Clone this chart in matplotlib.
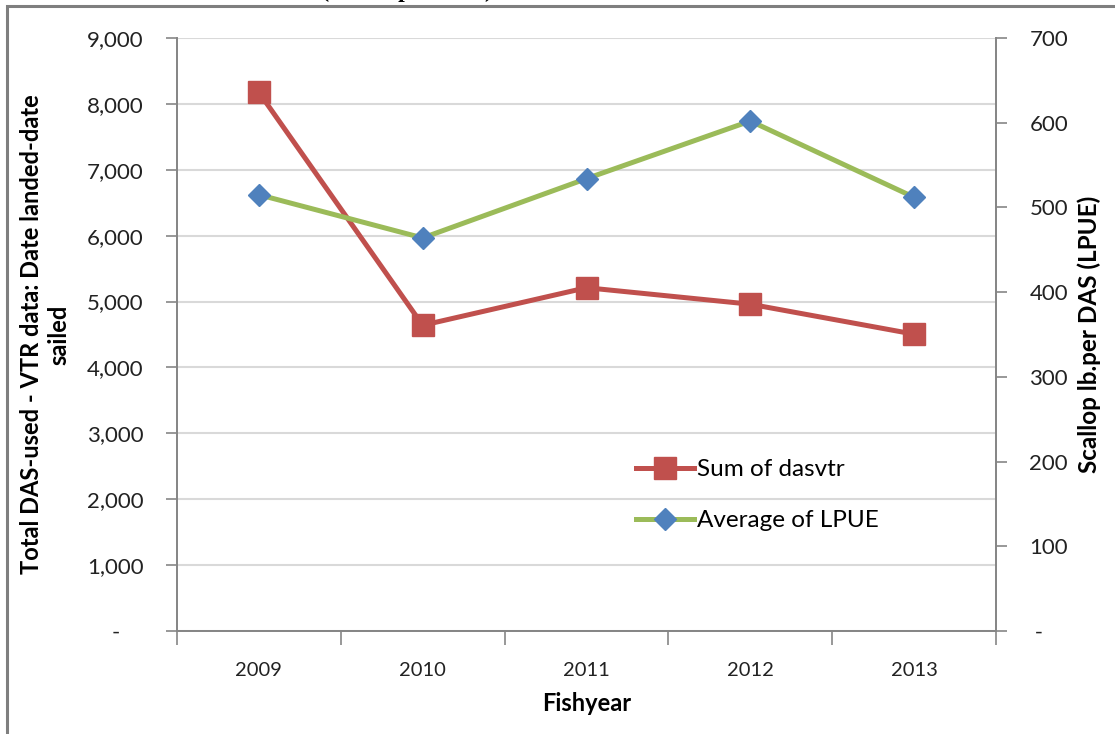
import numpy as np
import matplotlib
matplotlib.use("Agg")
import matplotlib.pyplot as plt
from matplotlib.patches import Rectangle
from matplotlib.ticker import FuncFormatter, MultipleLocator

plt.rcParams['font.family'] = ['Lato', 'DejaVu Sans']

# data
years = ['2009', '2010', '2011', '2012', '2013']
das_sum = [8175, 4640, 5210, 4960, 4505]
lpue_avg = [515, 464, 534, 602, 512]

red = '#C0504D'
green = '#9BBB59'
blue = '#4F81BD'
grid_c = '#D9D9D9'
axis_c = '#868686'

fig = plt.figure(figsize=(11.15, 7.34), dpi=100)
ax = fig.add_axes([177/1115, 103/734, (996-177)/1115, (631-38)/734])
ax2 = ax.twinx()

x = np.arange(len(years))
l1, = ax.plot(x, das_sum, color=red, lw=3.6, marker='s', ms=15.5,
              mfc=red, mec=red, label='Sum of dasvtr', zorder=3)
l2, = ax2.plot(x, lpue_avg, color=green, lw=3.6, marker='D', ms=11.7,
               mfc=blue, mec=blue, label='Average of LPUE', zorder=3)

ax.set_xlim(-0.5, 4.5)
ax.set_ylim(0, 9000)
ax2.set_ylim(0, 700)
ax.yaxis.set_major_locator(MultipleLocator(1000))
ax2.yaxis.set_major_locator(MultipleLocator(100))

def fmt(v, pos):
    if v == 0:
        return '-    '
    return f'{v:,.0f}'

def fmt2(v, pos):
    if v == 0:
        return ' -'
    return f'{v:,.0f}'

ax.yaxis.set_major_formatter(FuncFormatter(fmt))
ax2.yaxis.set_major_formatter(FuncFormatter(fmt2))

ax.set_xticks(x)
ax.set_xticklabels(years)
ax.set_xticks(np.arange(-0.5, 5, 1), minor=True)
ax.tick_params(axis='x', which='major', length=0, pad=22, labelsize=14.5, colors='#222222')
ax.tick_params(axis='x', which='minor', length=10, width=1.2, color=axis_c)
ax.tick_params(axis='y', length=8, width=1.2, color=axis_c, pad=16, labelsize=16, labelcolor='#222222')
ax2.tick_params(axis='y', length=8, width=1.2, color=axis_c, pad=16, labelsize=16, labelcolor='#222222')

ax.grid(axis='y', color=grid_c, lw=1.5, zorder=0)
ax.set_axisbelow(True)
for a in (ax, ax2):
    a.spines['top'].set_visible(False)
    for s in ('left', 'right', 'bottom'):
        a.spines[s].set_color(axis_c)
        a.spines[s].set_linewidth(1.3)

ax.set_xlabel('Fishyear', fontsize=17, fontweight='bold', labelpad=10)
ax.set_ylabel('Total DAS-used - VTR data: Date landed-date\nsailed',
              fontsize=17, fontweight='bold', labelpad=12, linespacing=1.2)
ax2.set_ylabel('Scallop lb.per DAS (LPUE)', fontsize=17.5, fontweight='bold',
               rotation=90, labelpad=7)

ax2.legend(handles=[l1, l2], loc='upper left', bbox_to_anchor=(636/1115, 1 - 459/734),
           bbox_transform=fig.transFigure, frameon=False, fontsize=17.5,
           handlelength=2.4, handletextpad=0.12, labelspacing=1.25,
           borderpad=0, borderaxespad=0)

# screenshot frame and clipped caption above it
fig.patches.append(Rectangle((7/1115, -0.1), 1.2, (734 - 6)/734 + 0.1,
                             transform=fig.transFigure, fill=False,
                             ec='#7F7F7F', lw=2.2))
fig.text(55/1115, 1 + 3/734, 'Total DAS-used vs. LPUE (LPUE per DAS)',
         family='Liberation Serif', fontweight='bold', fontsize=17,
         va='baseline', ha='left')

fig.savefig('out.png', dpi=100)
